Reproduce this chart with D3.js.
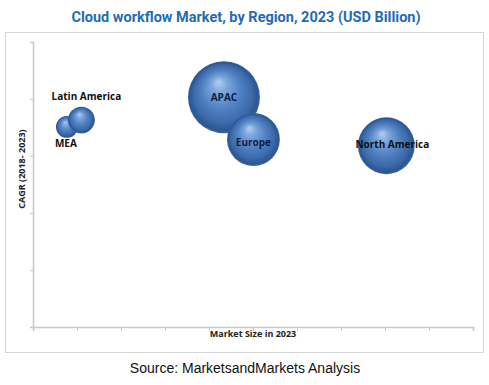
<!DOCTYPE html>
<html>
<head>
<meta charset="utf-8">
<script src="https://cdn.jsdelivr.net/npm/d3@7"></script>
<style>
  html, body { margin: 0; padding: 0; background: #fff; }
  svg { display: block; }
</style>
</head>
<body>
<svg id="chart" width="489" height="385"></svg>
<script>
// ---- data ----
const regions = ["MEA", "Latin America", "APAC", "Europe", "North America"];
const marketSize = [0.77, 1.10, 4.34, 5.01, 8.03];   // x position (relative units)
const cagr = [3.51, 3.63, 4.03, 3.29, 3.18];          // y position (relative units)
const bubbleSize = [0.12, 0.18, 1.30, 0.70, 0.81];    // bubble size (relative)
const xTicks = [0, 1, 2, 3, 4, 5, 6, 7, 8, 9, 10];
const yTicks = [0, 1, 2, 3, 4, 5];
const title = "Cloud workflow Market, by Region, 2023 (USD Billion)";
const xLabel = "Market Size in 2023";
const yLabel = "CAGR (2018- 2023)";
const source = "Source: MarketsandMarkets Analysis";

// ---- layout ----
const svg = d3.select("#chart");
const plot = { left: 33, right: 473, top: 42, bottom: 327 };

const x = d3.scaleLinear().domain([0, 10]).range([plot.left, plot.right]);
const y = d3.scaleLinear().domain([0, 5]).range([plot.bottom, plot.top]);
const r = d3.scaleSqrt().domain([0, d3.max(bubbleSize)]).range([0, 36]);

// gradient
const defs = svg.append("defs");
const grad = defs.append("radialGradient").attr("id", "sphere")
  .attr("cx", "50%").attr("cy", "50%").attr("r", "50%")
  .attr("fx", "42%").attr("fy", "28%");
[[0, "#b4d0f2"], [0.22, "#7ca6dc"], [0.55, "#4f80c2"], [0.8, "#3c6aab"], [0.94, "#2c5690"], [1, "#3a67a6"]]
  .forEach(([o, c]) => grad.append("stop").attr("offset", o).attr("stop-color", c));

// outer frame
svg.append("rect").attr("x", 5.5).attr("y", 32.5).attr("width", 478).attr("height", 320)
  .attr("fill", "#fff").attr("stroke", "#d6d6d6").attr("stroke-width", 1);

// title
svg.append("text").attr("x", 246).attr("y", 22).attr("text-anchor", "middle")
  .attr("font-family", "Roboto, 'Liberation Sans', sans-serif").attr("font-weight", 700)
  .attr("font-size", 14.5).attr("fill", "#1f6cb4").text(title);

// axes
const xAxis = d3.axisBottom(x).tickValues(xTicks).tickSize(4).tickFormat("");
const yAxis = d3.axisLeft(y).tickValues(yTicks).tickSize(3).tickFormat("");
const gx = svg.append("g").attr("transform", `translate(0,${plot.bottom})`).call(xAxis);
const gy = svg.append("g").attr("transform", `translate(${plot.left},0)`).call(yAxis);
[gx, gy].forEach(g => {
  g.selectAll("path").attr("stroke", "#c8c8c8").attr("stroke-width", 1.5);
  g.selectAll("line").attr("stroke", "#c8c8c8");
});

// axis labels
svg.append("text").attr("x", 253).attr("y", 337).attr("text-anchor", "middle")
  .attr("font-family", "'Open Sans', sans-serif").attr("font-weight", 700)
  .attr("font-size", 9).attr("fill", "#222").text(xLabel);
svg.append("text").attr("transform", "translate(25,169) rotate(-90)").attr("text-anchor", "middle")
  .attr("font-family", "'Open Sans', sans-serif").attr("font-weight", 700)
  .attr("font-size", 9).attr("fill", "#222").text(yLabel);

// bubbles
const data = regions.map((name, i) => ({ name, x: marketSize[i], y: cagr[i], s: bubbleSize[i] }));
svg.append("g").selectAll("circle").data(data).join("circle")
  .attr("cx", d => x(d.x)).attr("cy", d => y(d.y)).attr("r", d => r(d.s))
  .attr("fill", "url(#sphere)");

// labels
const labelPos = {
  "MEA": { dx: -1, dy: 20, fill: "#111" },
  "Latin America": { dx: 5, dy: -20, fill: "#111" },
  "APAC": { dx: 0, dy: 4, fill: "#10213f" },
  "Europe": { dx: 0, dy: 7, fill: "#10213f" },
  "North America": { dx: 6, dy: 2, fill: "#111" }
};
svg.append("g").selectAll("text").data(data).join("text")
  .attr("x", d => x(d.x) + labelPos[d.name].dx)
  .attr("y", d => y(d.y) + labelPos[d.name].dy)
  .attr("text-anchor", "middle")
  .attr("font-family", "'Open Sans', sans-serif").attr("font-weight", 700)
  .attr("font-size", 10).attr("fill", d => labelPos[d.name].fill)
  .text(d => d.name);

// source
svg.append("text").attr("x", 245).attr("y", 373).attr("text-anchor", "middle")
  .attr("font-family", "'Liberation Sans', Arial, sans-serif")
  .attr("font-size", 14).attr("fill", "#111").text(source);
</script>
</body>
</html>
